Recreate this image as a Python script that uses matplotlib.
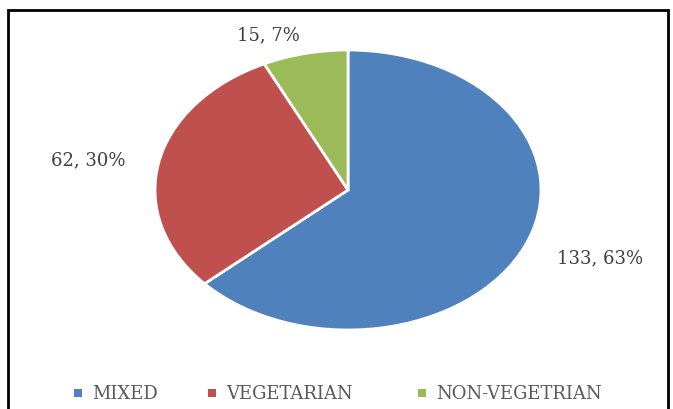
import matplotlib.pyplot as plt
from matplotlib.patches import Rectangle

categories = ['MIXED', 'VEGETARIAN', 'NON-VEGETRIAN']
counts = [133, 62, 15]
percents = [63, 30, 7]
colors = ['#4F81BD', '#C0504D', '#9BBB59']

W, H = 673, 409
fig = plt.figure(figsize=(W / 100, H / 100), dpi=100)
serif = ['DejaVu Serif']


def px(x, y):
    # pixel position (from top-left) -> figure fraction
    return x / W, 1 - y / H


# frame around the chart area (open at the bottom)
fig.patches.append(Rectangle((8 / W, -0.1), 660 / W, (H - 10) / H + 0.1,
                             transform=fig.transFigure, fill=False,
                             edgecolor='black', linewidth=2))

# elliptical pie: axes box spans the ellipse bounds
ax = fig.add_axes([155 / W, (H - 330) / H, 386 / W, 280 / H])
ax.pie(counts, colors=colors, startangle=90, counterclock=False,
       wedgeprops=dict(edgecolor='white', linewidth=2))
ax.set_aspect('auto')
ax.set_xlim(-1, 1)
ax.set_ylim(-1, 1)

# data labels "count, percent"
label_pos = [(600, 258), (88, 160), (268, 35)]
for (x, y), c, p in zip(label_pos, counts, percents):
    fig.text(*px(x, y), f'{c}, {p}%', ha='center', va='center',
             fontsize=13, color='#404040', family=serif)

# legend row drawn by hand: square marker + label
legend_x = [78, 212, 422]
for x, name, col in zip(legend_x, categories, colors):
    fig.patches.append(Rectangle(px(x - 4, 397), 8 / W, 8 / H,
                                 transform=fig.transFigure,
                                 facecolor=col, edgecolor='none'))
    fig.text(*px(x + 14, 394), name, ha='left', va='center',
             fontsize=13, color='#595959', family=serif)

fig.savefig('out.png', dpi=100)
